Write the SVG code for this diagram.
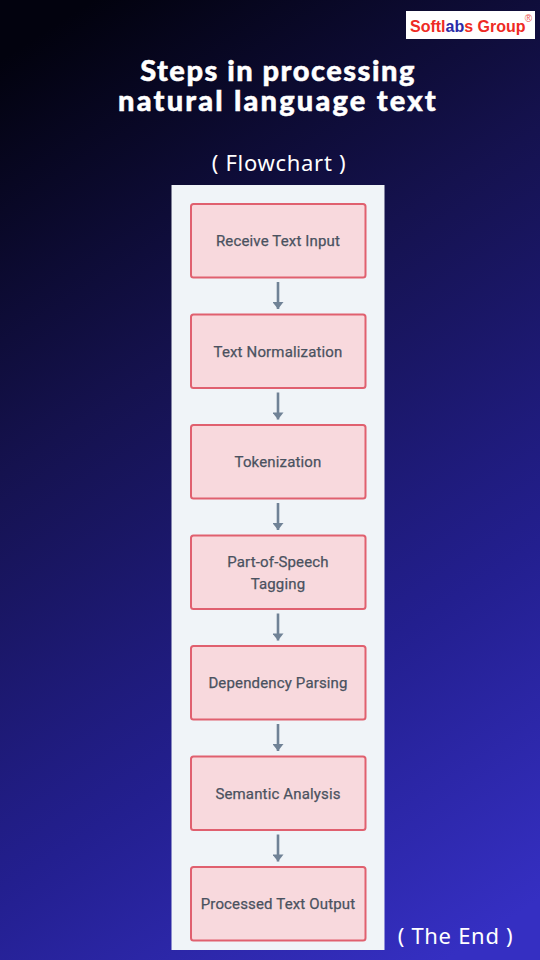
<svg xmlns="http://www.w3.org/2000/svg" width="540" height="960" viewBox="0 0 540 960">
<defs>
<linearGradient id="bg" gradientUnits="userSpaceOnUse" x1="0" y1="60" x2="540" y2="900">
<stop offset="0" stop-color="#02020e"/>
<stop offset="0.35" stop-color="#15124f"/>
<stop offset="0.7" stop-color="#231f8f"/>
<stop offset="1" stop-color="#352fc2"/>
</linearGradient>
<marker id="arrow" markerUnits="userSpaceOnUse" markerWidth="9" markerHeight="11" refX="8" refY="5.500" orient="auto" viewBox="0 0 9 11">
<path d="M1 0 L8 5.500 L1 11 Z" fill="#708296"/>
</marker>
<style>
.node rect{fill:#f8d9dd;stroke:#e0606f;stroke-width:2}
.node text{font-family:"Roboto","Liberation Sans",sans-serif;font-size:15px;fill:#4a5260;stroke:#4a5260;stroke-width:.25px;text-anchor:middle;letter-spacing:.15px}
.conn line{stroke:#708296;stroke-width:2.6}
.cap{font-family:"Noto Sans","Open Sans",sans-serif;font-size:22px;fill:#fff;text-anchor:middle;letter-spacing:.7px}
.title{font-family:"Lato","Open Sans",sans-serif;font-size:29px;font-weight:900;fill:#fff;stroke:#fff;stroke-width:.5px;text-anchor:middle}
</style>
</defs>
<rect width="540" height="960" fill="url(#bg)"/>
<g id="logo">
<rect x="406" y="11" width="129" height="28" fill="#fff"/>
<text x="410" y="32" font-family="Liberation Sans,sans-serif" font-size="16" font-weight="700" fill="#ee2a24">Softl<tspan fill="#2b2aa8">ab</tspan>s Group</text>
<text x="528.500" y="22" font-family="Liberation Sans,sans-serif" font-size="10" fill="#ee5a55" text-anchor="middle">®</text>
</g>
<text id="title" class="title"><tspan x="278" y="81" letter-spacing="1.500">Steps in processing</tspan><tspan x="278" y="111" letter-spacing="2.200">natural language text</tspan></text>
<text id="subtitle" class="cap" x="279" y="171">( Flowchart )</text>
<rect id="panel" x="171.500" y="185" width="213" height="765" fill="#f0f4f8"/>
<g id="connectors" class="conn">
<line x1="278" y1="282" x2="278" y2="309" marker-end="url(#arrow)"/>
<line x1="278" y1="392.500" x2="278" y2="419.500" marker-end="url(#arrow)"/>
<line x1="278" y1="503" x2="278" y2="530" marker-end="url(#arrow)"/>
<line x1="278" y1="613.500" x2="278" y2="640.500" marker-end="url(#arrow)"/>
<line x1="278" y1="724" x2="278" y2="751" marker-end="url(#arrow)"/>
<line x1="278" y1="834.500" x2="278" y2="861.500" marker-end="url(#arrow)"/>
</g>
<g id="n1" class="node"><rect x="191" y="204" width="174.500" height="73.500" rx="2.500"/><text x="278" y="246">Receive Text Input</text></g>
<g id="n2" class="node"><rect x="191" y="314.500" width="174.500" height="73.500" rx="2.500"/><text x="278" y="356.500">Text Normalization</text></g>
<g id="n3" class="node"><rect x="191" y="425" width="174.500" height="73.500" rx="2.500"/><text x="278" y="467">Tokenization</text></g>
<g id="n4" class="node"><rect x="191" y="535.500" width="174.500" height="73.500" rx="2.500"/><text x="278" y="567">Part-of-Speech</text><text x="278" y="589">Tagging</text></g>
<g id="n5" class="node"><rect x="191" y="646" width="174.500" height="73.500" rx="2.500"/><text x="278" y="688">Dependency Parsing</text></g>
<g id="n6" class="node"><rect x="191" y="756.500" width="174.500" height="73.500" rx="2.500"/><text x="278" y="798.500">Semantic Analysis</text></g>
<g id="n7" class="node"><rect x="191" y="867" width="174.500" height="73.500" rx="2.500"/><text x="278" y="909">Processed Text Output</text></g>
<text id="end" class="cap" x="455.500" y="944">( The End )</text>
</svg>
